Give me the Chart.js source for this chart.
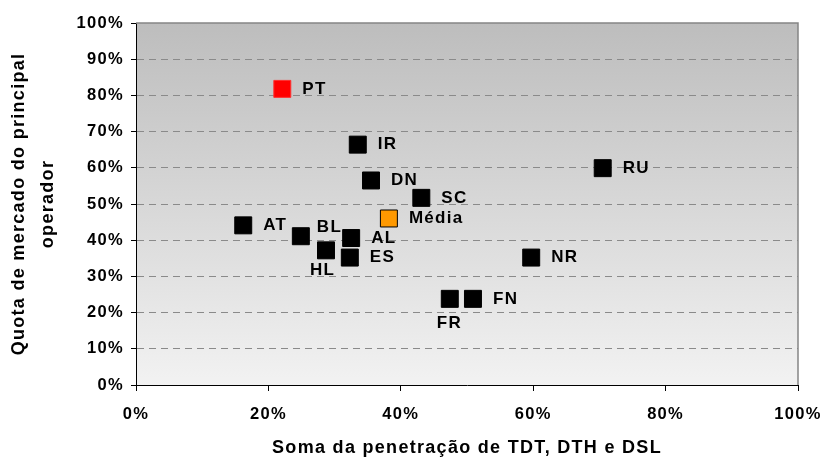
<!DOCTYPE html>
<html lang="pt">
<head>
<meta charset="utf-8">
<title>Quota de mercado vs penetração</title>
<script src="https://cdn.jsdelivr.net/npm/chart.js@4/dist/chart.umd.min.js"></script>
<style>
  html, body { margin: 0; padding: 0; background: #fff; }
  #wrap { width: 825px; height: 459px; }
</style>
</head>
<body>
<div id="wrap"><canvas id="grafico"></canvas></div>
<script>
// 數據
const paises = ['PT', 'IR', 'DN', 'SC', 'Média', 'AT', 'BL', 'AL', 'HL', 'ES', 'NR', 'FR', 'FN', 'RU'];
const penetracao = [22.1, 33.5, 35.5, 43.1, 38.2, 16.2, 24.9, 32.5, 28.7, 32.3, 59.7, 47.4, 50.9, 70.5];
const quota = [81.8, 66.4, 56.5, 51.7, 46.0, 44.1, 41.1, 40.6, 37.2, 35.2, 35.2, 23.8, 23.8, 59.9];

const tituloX = 'Soma da penetração de TDT, DTH e DSL';
const tituloY = ['Quota de mercado do principal', 'operador'];

const FONTE = "'Liberation Sans', Arial, sans-serif";
const ESPACO = '1.3px';

// 標籤位置 (默認在右邊)
const posRotulo = { BL: [16, -9], HL: [-16, 20], FR: [-13, 24] };

function corPonto(nome) {
    if (nome === 'PT') return '#ff0000';
    if (nome === 'Média') return '#ff9900';
    return '#000000';
}

// 背景漸變 + 邊框
const fundoGrafico = {
    id: 'fundoGrafico',
    beforeLayout(chart) {
        chart.ctx.letterSpacing = ESPACO;
    },
    beforeDraw(chart) {
        const { ctx, chartArea: a } = chart;
        ctx.letterSpacing = ESPACO;
        const g = ctx.createLinearGradient(0, a.top, 0, a.bottom);
        g.addColorStop(0, '#bdbdbd');
        g.addColorStop(1, '#f2f2f2');
        ctx.save();
        ctx.fillStyle = g;
        ctx.fillRect(a.left, a.top, a.right - a.left, a.bottom - a.top);
        ctx.restore();
    },
    beforeDatasetsDraw(chart) {
        const { ctx, chartArea: a } = chart;
        ctx.save();
        ctx.strokeStyle = '#858585';
        ctx.lineWidth = 1.5;
        ctx.beginPath();
        ctx.moveTo(a.left, a.top);
        ctx.lineTo(a.right, a.top);
        ctx.lineTo(a.right, a.bottom);
        ctx.stroke();
        ctx.restore();
    }
};

// 數據點標籤
const rotulos = {
    id: 'rotulos',
    afterDatasetsDraw(chart) {
        const { ctx } = chart;
        const meta = chart.getDatasetMeta(0);
        ctx.save();
        ctx.letterSpacing = ESPACO;
        ctx.font = 'bold 17px ' + FONTE;
        ctx.fillStyle = '#000';
        ctx.textAlign = 'left';
        ctx.textBaseline = 'middle';
        meta.data.forEach((pt, i) => {
            const nome = paises[i];
            const off = posRotulo[nome] || [20, 0];
            ctx.fillText(nome, pt.x + off[0], pt.y + off[1]);
        });
        ctx.restore();
    }
};

const ctx = document.getElementById('grafico').getContext('2d');
new Chart(ctx, {
    type: 'scatter',
    data: {
        datasets: [{
            data: paises.map((p, i) => ({ x: penetracao[i], y: quota[i] })),
            pointStyle: 'rect',
            pointRadius: 12,
            pointHoverRadius: 12,
            borderWidth: 1,
            backgroundColor: c => corPonto(paises[c.dataIndex]),
            borderColor: c => paises[c.dataIndex] === 'PT' ? '#ff3030' : '#000000'
        }]
    },
    options: {
        responsive: true,
        maintainAspectRatio: false,
        animation: false,
        events: [],
        layout: { padding: { left: 0, right: 27, top: 23, bottom: 0 } },
        plugins: {
            legend: { display: false },
            tooltip: { enabled: false }
        },
        scales: {
            x: {
                type: 'linear',
                min: 0,
                max: 100,
                ticks: {
                    stepSize: 20,
                    maxRotation: 0,
                    padding: 14,
                    color: '#000',
                    font: { family: FONTE, size: 16.5, weight: 'bold' },
                    callback: v => v + '%'
                },
                grid: { drawOnChartArea: false, tickLength: 6, tickColor: '#000' },
                border: { color: '#000', width: 1 },
                title: {
                    display: true,
                    text: tituloX,
                    color: '#000',
                    font: { family: FONTE, size: 18, weight: 'bold' },
                    padding: { top: 1, bottom: 0 }
                },
                afterFit(s) {
                    s.height = 74;
                    s.paddingLeft = 0;
                    s.paddingRight = 0;
                }
            },
            y: {
                min: 0,
                max: 100,
                ticks: {
                    stepSize: 10,
                    padding: 7,
                    color: '#000',
                    font: { family: FONTE, size: 16.5, weight: 'bold' },
                    callback: v => v + '%'
                },
                grid: {
                    color: c => (c.tick && (c.tick.value === 0 || c.tick.value === 100)) ? 'rgba(0,0,0,0)' : '#8a8a8a',
                    tickColor: '#000',
                    tickLength: 5,
                    tickBorderDash: []
                },
                border: { color: '#000', width: 1, dash: [7, 5] },
                title: {
                    display: true,
                    text: tituloY,
                    color: '#000',
                    font: { family: FONTE, size: 18, weight: 'bold', lineHeight: 1.6 },
                    padding: { top: 4.6, bottom: 0 }
                },
                afterFit(s) {
                    s.width = 136;
                    s.paddingTop = 0;
                    s.paddingBottom = 0;
                }
            }
        }
    },
    plugins: [fundoGrafico, rotulos]
});
</script>
</body>
</html>
